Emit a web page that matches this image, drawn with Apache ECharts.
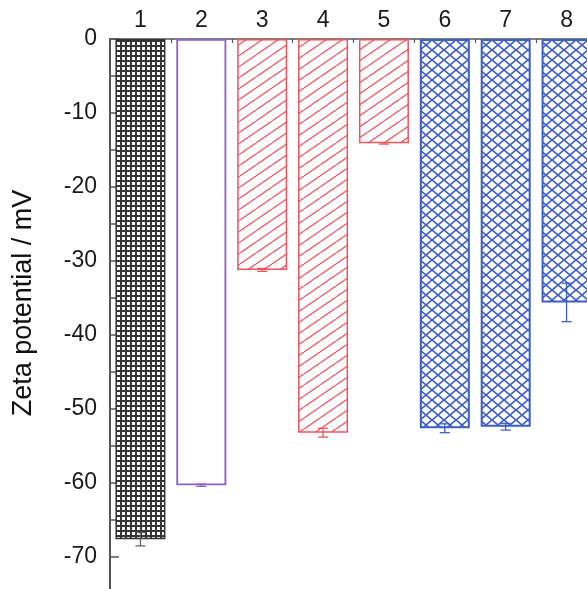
<!DOCTYPE html>
<html>
<head>
<meta charset="utf-8">
<script src="https://cdn.jsdelivr.net/npm/echarts@6/dist/echarts.min.js"></script>
<style>
html,body{margin:0;padding:0;background:#fff;}
#chart{width:587px;height:589px;}
</style>
</head>
<body>
<div id="chart"></div>
<script>
// ---- data ----
const categories = ['1', '2', '3', '4', '5', '6', '7', '8'];
const zeta = [-67.6, -60.3, -31.2, -53.2, -14.1, -52.6, -52.4, -35.6];
const zetaErr = [0.9, 0.15, 0.2, 0.6, 0.1, 0.6, 0.45, 2.6];
const yTicks = { min: -80, max: 0, interval: 10 };
const axisTitle = 'Zeta potential / mV';

// ---- patterns (style only) ----
function makeTile(w, h, draw) {
  const c = document.createElement('canvas');
  c.width = w; c.height = h;
  const ctx = c.getContext('2d');
  ctx.fillStyle = '#fff';
  ctx.fillRect(0, 0, w, h);
  draw(ctx, w, h);
  return c;
}
const gridTile = makeTile(5, 5, (ctx, w, h) => {
  ctx.fillStyle = '#353535';
  ctx.fillRect(0, 0, 2, h);
  ctx.fillRect(0, 0, w, 2);
});
const hatchTile = makeTile(16, 11, (ctx, w, h) => {
  ctx.strokeStyle = '#f0545e';
  ctx.lineWidth = 1.3;
  ctx.beginPath();
  ctx.moveTo(0, h); ctx.lineTo(w, 0);
  ctx.moveTo(-w, h); ctx.lineTo(0, 0);
  ctx.moveTo(w, h); ctx.lineTo(2 * w, 0);
  ctx.stroke();
});
const crossTile = makeTile(12, 10, (ctx, w, h) => {
  ctx.strokeStyle = '#3d5fc2';
  ctx.lineWidth = 1.7;
  ctx.beginPath();
  ctx.moveTo(0, 0); ctx.lineTo(w, h);
  ctx.moveTo(0, h); ctx.lineTo(w, 0);
  ctx.stroke();
});

const RED = '#f0545e', BLUE = '#3d5fc2', PURPLE = '#8d5fc8', DARK = '#333';
const barStyles = [
  { color: { image: gridTile, repeat: 'repeat' }, borderColor: DARK, borderWidth: 1.5 },
  { color: '#fff', borderColor: PURPLE, borderWidth: 1.8 },
  { color: { image: hatchTile, repeat: 'repeat' }, borderColor: RED, borderWidth: 1.5 },
  { color: { image: hatchTile, repeat: 'repeat' }, borderColor: RED, borderWidth: 1.5 },
  { color: { image: hatchTile, repeat: 'repeat' }, borderColor: RED, borderWidth: 1.5 },
  { color: { image: crossTile, repeat: 'repeat' }, borderColor: BLUE, borderWidth: 2 },
  { color: { image: crossTile, repeat: 'repeat' }, borderColor: BLUE, borderWidth: 2 },
  { color: { image: crossTile, repeat: 'repeat' }, borderColor: BLUE, borderWidth: 2 }
];
const errColors = ['#666', PURPLE, RED, RED, RED, BLUE, BLUE, BLUE];

const chart = echarts.init(document.getElementById('chart'), null, { renderer: 'canvas' });
const FONT = 'Liberation Sans, Arial, sans-serif';

chart.setOption({
  animation: false,
  backgroundColor: '#fff',
  grid: { left: 110, top: 39, width: 487, height: 592, containLabel: false, outerBoundsMode: 'none' },
  xAxis: [
    {
      type: 'category', data: categories, position: 'top',
      axisLine: { show: true, lineStyle: { color: '#555', width: 1.5 } },
      axisTick: { show: true, inside: true, length: 4, alignWithLabel: false, lineStyle: { color: '#555', width: 1.2 } },
      axisLabel: { show: true, fontSize: 23, color: '#1a1a1a', fontFamily: FONT, margin: 7 },
      splitLine: { show: false }
    },
    {
      type: 'category', data: categories, position: 'top',
      axisLine: { show: false },
      axisTick: { show: true, inside: true, length: 6, alignWithLabel: true, lineStyle: { color: '#555', width: 1.2 } },
      axisLabel: { show: false },
      splitLine: { show: false }
    }
  ],
  yAxis: {
    type: 'value', min: yTicks.min, max: yTicks.max, interval: yTicks.interval,
    name: axisTitle, nameLocation: 'middle', nameGap: 73, nameRotate: 90,
    nameTextStyle: { fontSize: 27, color: '#111', fontFamily: FONT, padding: [0, 0, 0, 64] },
    axisLine: { show: true, lineStyle: { color: '#555', width: 2 } },
    axisTick: { show: true, inside: true, length: 9, lineStyle: { color: '#555', width: 1.5 } },
    minorTick: { show: true, splitNumber: 2, length: 6, lineStyle: { color: '#555', width: 1.5 } },
    axisLabel: { fontSize: 23, color: '#1a1a1a', fontFamily: FONT, margin: 13 },
    splitLine: { show: false }
  },
  series: [
    {
      type: 'bar', xAxisIndex: 0, barWidth: 50, z: 2,
      data: zeta.map((v, i) => ({ value: v, itemStyle: barStyles[i] }))
    },
    {
      type: 'custom', xAxisIndex: 0, z: 5,
      data: zeta.map((v, i) => [i, v - zetaErr[i], v + zetaErr[i]]),
      renderItem: function (params, api) {
        const i = api.value(0);
        const lo = api.coord([i, api.value(1)]);
        const hi = api.coord([i, api.value(2)]);
        const hw = 5;
        const style = { stroke: errColors[params.dataIndex], lineWidth: 1.3, fill: null };
        return {
          type: 'group',
          children: [
            { type: 'line', shape: { x1: lo[0], y1: lo[1], x2: hi[0], y2: hi[1] }, style: style },
            { type: 'line', shape: { x1: lo[0] - hw, y1: lo[1], x2: lo[0] + hw, y2: lo[1] }, style: style },
            { type: 'line', shape: { x1: hi[0] - hw, y1: hi[1], x2: hi[0] + hw, y2: hi[1] }, style: style }
          ]
        };
      }
    }
  ]
});
</script>
</body>
</html>
